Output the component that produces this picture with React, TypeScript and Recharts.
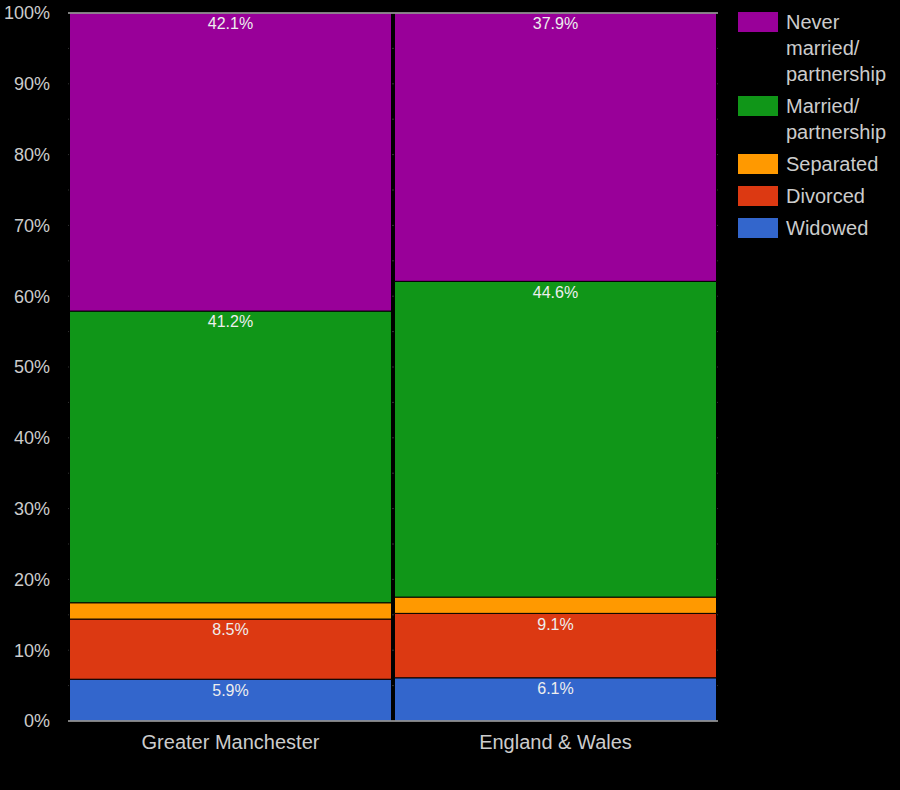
import { Bar, BarChart, CartesianGrid, LabelList, ReferenceLine, XAxis, YAxis } from 'recharts';

const categories = ['Greater Manchester', 'England & Wales'];
const widowed = [5.9, 6.1];
const divorced = [8.5, 9.1];
const separated = [2.3, 2.3];
const married = [41.2, 44.6];
const neverMarried = [42.1, 37.9];

const yTicks = [0, 10, 20, 30, 40, 50, 60, 70, 80, 90, 100];
const gridLines = [5, 10, 15, 20, 25, 30, 35, 40, 45, 50, 55, 60, 65, 70, 75, 80, 85, 90, 95];

const series = [
  { key: 'never', name: 'Never married/ partnership', color: '#990099', label: true },
  { key: 'married', name: 'Married/ partnership', color: '#109618', label: true },
  { key: 'separated', name: 'Separated', color: '#ff9900', label: false },
  { key: 'divorced', name: 'Divorced', color: '#dc3912', label: true },
  { key: 'widowed', name: 'Widowed', color: '#3366cc', label: true },
];

const data = categories.map((name, i) => ({
  name,
  widowed: widowed[i],
  divorced: divorced[i],
  separated: separated[i],
  married: married[i],
  never: neverMarried[i],
}));

// stacking order bottom -> top
const stackOrder = ['widowed', 'divorced', 'separated', 'married', 'never'];

const ChartLegend = () => (
  <div style={{ position: 'absolute', left: 738, top: 9, width: 160, fontSize: 20, color: '#cccccc' }}>
    {series.map((s) => (
      <div key={s.key} style={{ display: 'flex', alignItems: 'flex-start', paddingBottom: 6 }}>
        <div style={{ width: 40, height: 20, marginTop: 3, background: s.color, flex: 'none' }} />
        <div style={{ marginLeft: 8, width: 110, lineHeight: '26px' }}>{s.name}</div>
      </div>
    ))}
  </div>
);

const App = () => {
  return (
    <div
      style={{
        position: 'absolute',
        left: 0,
        top: 0,
        width: 900,
        height: 790,
        background: '#000',
        fontFamily: '"Liberation Sans", Arial, sans-serif',
      }}
    >
      <BarChart
        width={900}
        height={790}
        data={data}
        margin={{ top: 13, right: 182, left: 0, bottom: 0 }}
        barCategoryGap={1.5}
        style={{ fontFamily: '"Liberation Sans", Arial, sans-serif' }}
      >
        <CartesianGrid vertical={false} horizontalValues={gridLines} stroke="#333333" />
        <XAxis
          dataKey="name"
          height={69}
          tickLine={false}
          axisLine={false}
          tickMargin={8}
          tick={{ fill: '#cccccc', fontSize: 20 }}
        />
        <YAxis
          domain={[0, 100]}
          ticks={yTicks}
          width={68}
          tickLine={false}
          axisLine={false}
          tickMargin={12}
          tickFormatter={(v: number) => `${v}%`}
          tick={{ fill: '#cccccc', fontSize: 18 }}
        />
        {stackOrder.map((key) => {
          const s = series.find((x) => x.key === key)!;
          return (
            <Bar
              key={key}
              dataKey={key}
              stackId="a"
              fill={s.color}
              stroke="#000"
              strokeWidth={1}
              isAnimationActive={false}
            >
              {s.label && (
                <LabelList
                  dataKey={key}
                  position="insideTop"
                  offset={5}
                  formatter={(v: number) => `${v}%`}
                  fill="#eeeeee"
                  fontSize={16}
                />
              )}
            </Bar>
          );
        })}
        <ReferenceLine y={100} stroke="#aaaaaa" strokeWidth={1.5} />
        <ReferenceLine y={0} stroke="#aaaaaa" strokeWidth={1.5} />
      </BarChart>
      <ChartLegend />
    </div>
  );
};

export default App;
